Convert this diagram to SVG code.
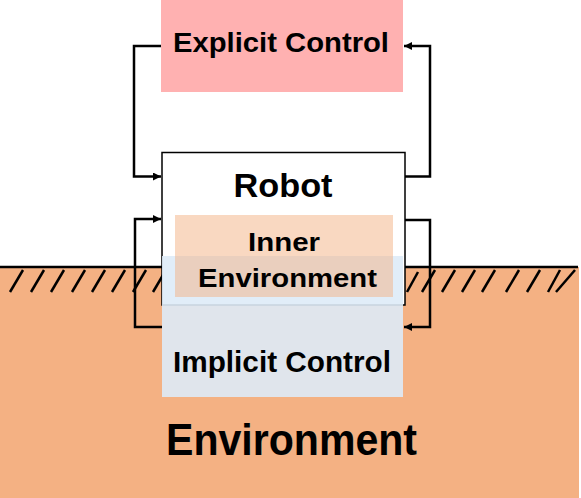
<svg xmlns="http://www.w3.org/2000/svg" width="581" height="498" viewBox="0 0 581 498">
<style>
.t{font-family:"Liberation Sans",Arial,sans-serif;font-weight:bold;fill:#000;text-anchor:middle}
.c{fill:none;stroke:#000;stroke-width:2.5}
.h{stroke:#000;stroke-width:2.5}
</style>
<defs>
<marker id="ah" viewBox="0 0 10 10" refX="10" refY="5" markerWidth="3.2" markerHeight="3.2" orient="auto" markerUnits="strokeWidth">
<path d="M0,0 L10,5 L0,10 z" fill="#000"/>
</marker>
</defs>
<rect width="581" height="498" fill="#fff"/>
<g id="ground">
<rect x="0" y="267" width="579" height="231" fill="#F4B183"/>
<g class="h">
<line x1="10" y1="292" x2="23" y2="270"/>
<line x1="31" y1="292" x2="44" y2="270"/>
<line x1="51" y1="292" x2="64" y2="270"/>
<line x1="72" y1="292" x2="85" y2="270"/>
<line x1="92" y1="292" x2="105" y2="270"/>
<line x1="112" y1="292" x2="125" y2="270"/>
<line x1="133" y1="292" x2="146" y2="270"/>
<line x1="153" y1="292" x2="166" y2="270"/>
<line x1="407" y1="292" x2="418" y2="272"/>
<line x1="422" y1="292" x2="435" y2="270"/>
<line x1="442" y1="292" x2="455" y2="270"/>
<line x1="462" y1="292" x2="475" y2="270"/>
<line x1="482" y1="292" x2="495" y2="270"/>
<line x1="506" y1="292" x2="519" y2="270"/>
<line x1="527" y1="292" x2="540" y2="270"/>
<line x1="548" y1="292" x2="560" y2="270"/>
<line x1="556" y1="292" x2="575" y2="270"/>
</g>
<line x1="0" y1="267" x2="578" y2="267" stroke="#000" stroke-width="2.5"/>
</g>
<g id="explicit">
<rect x="161" y="0" width="242" height="92" fill="#FFB1B1"/>
<text class="t" x="281" y="52" font-size="28" textLength="216" lengthAdjust="spacingAndGlyphs">Explicit Control</text>
</g>
<g id="robot">
<rect x="162" y="152.5" width="243" height="152.5" fill="#fff" stroke="#000" stroke-width="1.5"/>
<text class="t" x="283" y="197" font-size="34" textLength="99" lengthAdjust="spacingAndGlyphs">Robot</text>
</g>
<g id="implicit">
<rect x="162" y="256" width="241" height="141" fill="#DEEBF7" fill-opacity="0.9"/>
<text class="t" x="282" y="372" font-size="29" textLength="218" lengthAdjust="spacingAndGlyphs">Implicit Control</text>
</g>
<g id="inner">
<rect x="175" y="215" width="218" height="82" fill="#F4B183" fill-opacity="0.5"/>
<text class="t" x="284" y="251" font-size="26" textLength="72" lengthAdjust="spacingAndGlyphs">Inner</text>
<text class="t" x="287.5" y="287" font-size="26" textLength="179" lengthAdjust="spacingAndGlyphs">Environment</text>
</g>
<g id="environment">
<text class="t" x="291.5" y="455" font-size="44" textLength="251" lengthAdjust="spacingAndGlyphs">Environment</text>
</g>
<g id="connectors">
<polyline class="c" points="161,46 134,46 134,176.5 161,176.5" marker-end="url(#ah)"/>
<polyline class="c" points="405,176.5 430,176.5 430,46 404,46" marker-end="url(#ah)"/>
<polyline class="c" points="162,327 135,327 135,219 161,219" marker-end="url(#ah)"/>
<polyline class="c" points="405,220 430,220 430,327 404,327" marker-end="url(#ah)"/>
</g>
</svg>
